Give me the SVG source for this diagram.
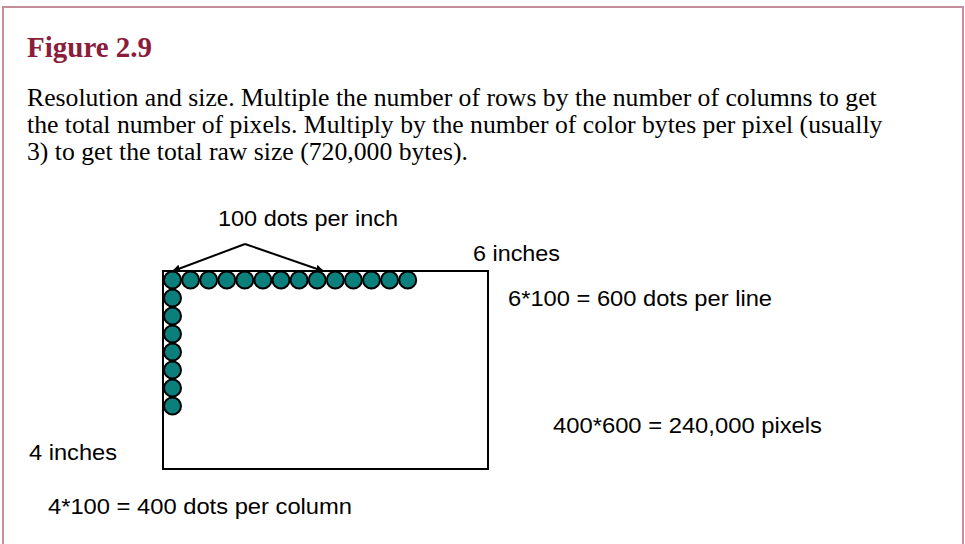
<svg xmlns="http://www.w3.org/2000/svg" width="965" height="544" viewBox="0 0 965 544">
<style>
.t{font-family:"Liberation Sans",Arial,sans-serif;font-size:22.5px;fill:#000}
.b{font-family:"Liberation Serif","Times New Roman",serif;font-size:25.7px;fill:#000}
.d{fill:#0a7f7b;stroke:#000;stroke-width:2}
.l{stroke:#000;stroke-width:2;fill:none}
</style>
<defs>
<marker id="ah" viewBox="0 0 10 10" refX="9" refY="5" markerWidth="8" markerHeight="8" orient="auto-start-reverse" markerUnits="userSpaceOnUse"><path d="M0,0 L10,5 L0,10 z" fill="#000"/></marker>
</defs>
<rect x="0" y="0" width="965" height="544" fill="#fff"/>
<rect x="3" y="7" width="960" height="545" fill="none" stroke="#c48f9b" stroke-width="2"/>
<text x="27" y="57" font-family="Liberation Serif,serif" font-weight="bold" font-size="29" fill="#8b1c3c">Figure 2.9</text>
<text class="b" x="27" y="106">Resolution and size. Multiple the number of rows by the number of columns to get</text>
<text class="b" x="27" y="133">the total number of pixels. Multiply by the number of color bytes per pixel (usually</text>
<text class="b" x="27" y="160">3) to get the total raw size (720,000 bytes).</text>
<g id="connectors">
<path class="l" d="M245,244 L173,271" marker-end="url(#ah)"/>
<path class="l" d="M245,244 L323,271" marker-end="url(#ah)"/>
</g>
<g id="image">
<rect class="l" x="163" y="271" width="325" height="198"/>
</g>
<g id="dots">
<circle class="d" cx="172.5" cy="280" r="8.5"/>
<circle class="d" cx="190.6" cy="280" r="8.5"/>
<circle class="d" cx="208.7" cy="280" r="8.5"/>
<circle class="d" cx="226.8" cy="280" r="8.5"/>
<circle class="d" cx="244.8" cy="280" r="8.5"/>
<circle class="d" cx="262.9" cy="280" r="8.5"/>
<circle class="d" cx="281" cy="280" r="8.5"/>
<circle class="d" cx="299.1" cy="280" r="8.5"/>
<circle class="d" cx="317.2" cy="280" r="8.5"/>
<circle class="d" cx="335.3" cy="280" r="8.5"/>
<circle class="d" cx="353.4" cy="280" r="8.5"/>
<circle class="d" cx="371.5" cy="280" r="8.5"/>
<circle class="d" cx="389.6" cy="280" r="8.5"/>
<circle class="d" cx="407.7" cy="280" r="8.5"/>
<circle class="d" cx="172.5" cy="298" r="8.5"/>
<circle class="d" cx="172.5" cy="316" r="8.5"/>
<circle class="d" cx="172.5" cy="334" r="8.5"/>
<circle class="d" cx="172.5" cy="352" r="8.5"/>
<circle class="d" cx="172.5" cy="370" r="8.5"/>
<circle class="d" cx="172.5" cy="388" r="8.5"/>
<circle class="d" cx="172.5" cy="406" r="8.5"/>
</g>
<g id="labels">
<text class="t" x="218" y="226" textLength="180" lengthAdjust="spacingAndGlyphs">100 dots per inch</text>
<text class="t" x="473" y="261" textLength="87" lengthAdjust="spacingAndGlyphs">6 inches</text>
<text class="t" x="508" y="306" textLength="264" lengthAdjust="spacingAndGlyphs">6*100 = 600 dots per line</text>
<text class="t" x="553" y="433" textLength="269" lengthAdjust="spacingAndGlyphs">400*600 = 240,000 pixels</text>
<text class="t" x="29" y="460" textLength="88" lengthAdjust="spacingAndGlyphs">4 inches</text>
<text class="t" x="48" y="514" textLength="304" lengthAdjust="spacingAndGlyphs">4*100 = 400 dots per column</text>
</g>
</svg>
